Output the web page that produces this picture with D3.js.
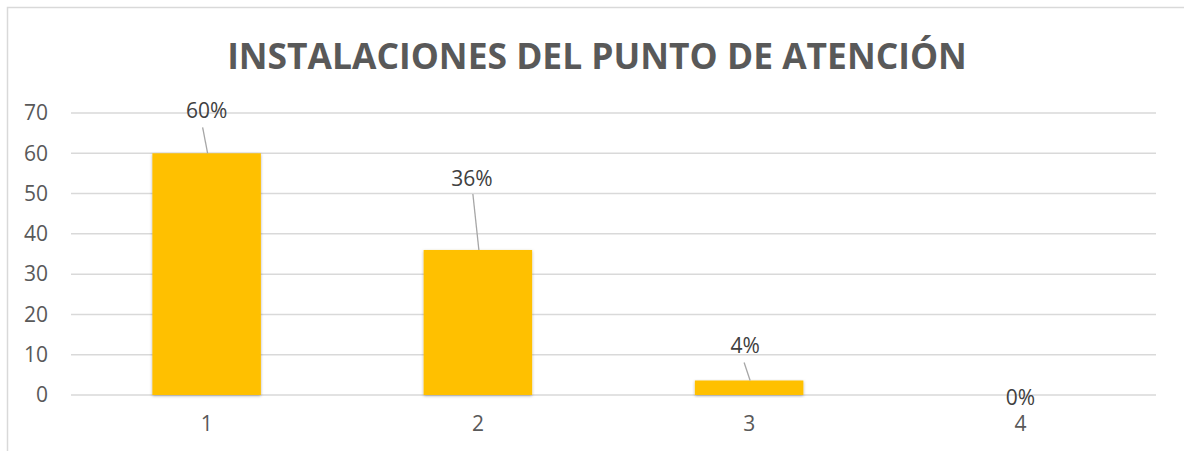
<!DOCTYPE html>
<html><head><meta charset="utf-8">
<script src="https://cdn.jsdelivr.net/npm/d3@7"></script>
<style>html,body{margin:0;padding:0;background:#fff;overflow:hidden}</style>
</head><body>
<script>
const title = "INSTALACIONES DEL PUNTO DE ATENCIÓN";
const categories = ["1", "2", "3", "4"];
const values = [60, 36, 3.6, 0];
const valueLabels = ["60%", "36%", "4%", "0%"];
const yTicks = [0, 10, 20, 30, 40, 50, 60, 70];

const W = 1184, H = 451;
const svg = d3.select("body").append("svg").attr("width", W).attr("height", H);
const defs = svg.append("defs");
const f = defs.append("filter").attr("id", "sh").attr("x", "-10%").attr("y", "-10%").attr("width", "130%").attr("height", "130%");
f.append("feDropShadow").attr("dx", 0).attr("dy", 1).attr("stdDeviation", 1.5).attr("flood-color", "#000").attr("flood-opacity", 0.3);

svg.append("rect").attr("x", 7.5).attr("y", 7.5).attr("width", 1250).attr("height", 500)
  .attr("fill", "#fff").attr("stroke", "#d9d9d9").attr("stroke-width", 1.5);

const m = {left: 71, right: 1156, top: 113, bottom: 395};
const x = d3.scaleBand().domain(categories).range([m.left, m.right]).paddingInner(0.6).paddingOuter(0.3);
const y = d3.scaleLinear().domain([0, 70]).range([m.bottom, m.top]);

const font = "'Open Sans', sans-serif";

// gridlines
svg.append("g").selectAll("line").data(yTicks).join("line")
  .attr("x1", m.left).attr("x2", m.right)
  .attr("y1", d => y(d)).attr("y2", d => y(d))
  .attr("stroke", "#d9d9d9").attr("stroke-width", 1.5);

// y axis labels
const yAxis = svg.append("g").attr("transform", `translate(${m.left - 10},0)`)
  .call(d3.axisLeft(y).tickValues(yTicks).tickSize(0).tickPadding(13));
yAxis.select(".domain").remove();
yAxis.selectAll("text").attr("font-family", font).attr("font-size", 21).attr("fill", "#595959");

// x axis labels
const xAxis = svg.append("g").attr("transform", `translate(0,${m.bottom})`)
  .call(d3.axisBottom(x).tickSize(0).tickPadding(21));
xAxis.select(".domain").remove();
xAxis.selectAll("text").attr("font-family", font).attr("font-size", 21).attr("fill", "#595959");

// bars
svg.append("g").selectAll("rect").data(values).join("rect")
  .attr("x", (d, i) => x(categories[i]))
  .attr("width", x.bandwidth())
  .attr("y", d => y(d))
  .attr("height", d => y(0) - y(d))
  .attr("fill", "#FFC000")
  .attr("filter", "url(#sh)")
  .style("display", d => d > 0 ? null : "none");

// data labels with leader lines
const labelOffsets = [
  {dx: 0, dy: -43, lx1: -4, ly1: -26},
  {dx: -6, dy: -72, lx1: -5, ly1: -56},
  {dx: -4, dy: -35, lx1: -5, ly1: -18},
  {dx: 0, dy: 2, lx1: null}
];
const lab = svg.append("g");
values.forEach((v, i) => {
  const cx = x(categories[i]) + x.bandwidth() / 2;
  const top = y(v);
  const o = labelOffsets[i];
  if (o.lx1 !== null) {
    lab.append("line").attr("x1", cx + o.lx1).attr("y1", top + o.ly1)
      .attr("x2", cx + 1).attr("y2", top)
      .attr("stroke", "#a6a6a6").attr("stroke-width", 1.3);
  }
  lab.append("text").attr("x", cx + o.dx).attr("y", top + o.dy)
    .attr("text-anchor", "middle").attr("dominant-baseline", "central")
    .attr("font-family", font).attr("font-size", 21).attr("fill", "#404040")
    .text(valueLabels[i]);
});

// title
const t = svg.append("text").attr("x", 597).attr("y", 69).attr("text-anchor", "middle")
  .attr("font-family", font).attr("font-weight", "bold").attr("font-size", 36)
  .attr("fill", "#595959").text(title);
const tw = t.node().getComputedTextLength();
t.attr("font-size", 36 * 740 / tw);
</script>
</body></html>
